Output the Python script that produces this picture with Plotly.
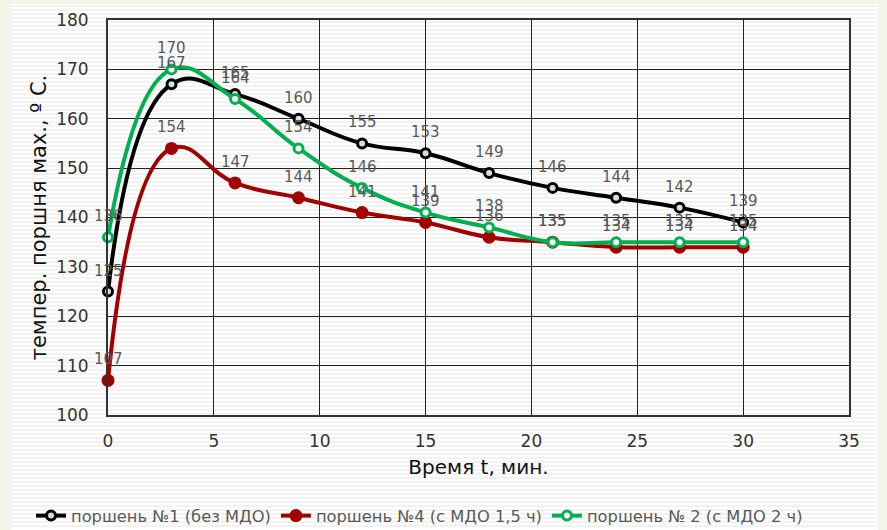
import plotly.graph_objects as go

# Time points, minutes
time_min = [0, 3, 6, 9, 12, 15, 18, 21, 24, 27, 30]

# Max piston temperature, deg C
piston1 = [125, 167, 165, 160, 155, 153, 149, 146, 144, 142, 139]
piston4 = [107, 154, 147, 144, 141, 139, 136, 135, 134, 134, 134]
piston2 = [136, 170, 164, 154, 146, 141, 138, 135, 135, 135, 135]

names = ["поршень №1 (без МДО)", "поршень №4 (с МДО 1,5 ч)", "поршень № 2 (с МДО 2 ч)"]

x_ticks = [0, 5, 10, 15, 20, 25, 30, 35]
y_ticks = [100, 110, 120, 130, 140, 150, 160, 170, 180]

W, H = 887, 530
ML, MR, MT, MB = 108, 38, 20, 115
PW, PH = W - ML - MR, H - MT - MB


def px(x):
    return (x - ML) / PW


def py(y):
    return (H - MB - y) / PH


fig = go.Figure()

series = [
    (piston1, names[0], "#000000", "#d6dde8", 9),
    (piston4, names[1], "#a20000", "#a20000", 10),
    (piston2, names[2], "#00b050", "#ffffff", 9),
]
annotations = []
for vals, name, col, fill, msize in series:
    fig.add_trace(go.Scatter(
        x=time_min, y=vals, name=name,
        mode="lines+markers",
        line=dict(color=col, width=4, shape="spline", smoothing=1.3),
        marker=dict(size=msize, color=fill, line=dict(color=col, width=3)),
        cliponaxis=False,
    ))
    # value labels above each point
    for xv, yv in zip(time_min, vals):
        annotations.append(dict(
            x=xv, y=yv, xref="x", yref="y", text=str(yv), showarrow=False,
            yshift=21, font=dict(family="DejaVu Sans", size=15, color="#595959"),
        ))

# Striped panel background
shapes = [dict(type="rect", xref="paper", yref="paper",
               x0=px(11), x1=px(878), y0=py(530), y1=py(4),
               fillcolor="#ffffff", line=dict(width=0), layer="below")]
yy = 6
while yy < 530:
    shapes.append(dict(type="line", xref="paper", yref="paper",
                       x0=px(11), x1=px(878), y0=py(yy), y1=py(yy),
                       line=dict(color="#e6e6e6", width=1), layer="below"))
    yy += 4

fig.update_layout(
    width=W, height=H,
    margin=dict(l=ML, r=MR, t=MT, b=MB, autoexpand=False),
    paper_bgcolor="#f1f4e6",
    plot_bgcolor="rgba(0,0,0,0)",
    shapes=shapes,
    annotations=annotations,
    showlegend=True,
    legend=dict(orientation="h", x=px(31), y=py(516), xanchor="left", yanchor="middle",
                font=dict(family="DejaVu Sans", size=16.3, color="#595959"),
                bgcolor="rgba(0,0,0,0)", itemwidth=30, tracegroupgap=0),
    font=dict(family="DejaVu Sans", color="#222222"),
)

fig.update_xaxes(
    range=[0, 35], tickvals=x_ticks, ticktext=[str(v) for v in x_ticks],
    showgrid=True, gridcolor="#222222", gridwidth=1,
    showline=True, linecolor="#333333", linewidth=2, mirror=True,
    zeroline=False, ticks="", ticklabelstandoff=10, automargin=False,
    tickfont=dict(family="DejaVu Sans", size=17, color="#333333"),
    title=dict(text="Время t, мин.", standoff=10,
               font=dict(family="DejaVu Sans", size=20, color="#111111")),
)
fig.update_yaxes(
    range=[100, 180], tickvals=y_ticks, ticktext=[str(v) for v in y_ticks],
    showgrid=True, gridcolor="#222222", gridwidth=1,
    showline=True, linecolor="#333333", linewidth=2, mirror=True,
    zeroline=False, ticks="", ticklabelstandoff=14, automargin=False,
    tickfont=dict(family="DejaVu Sans", size=17, color="#333333"),
    title=dict(text="темпер. поршня мах., º С.", standoff=4,
               font=dict(family="DejaVu Sans", size=21, color="#111111")),
)

fig.write_html("out.html")
